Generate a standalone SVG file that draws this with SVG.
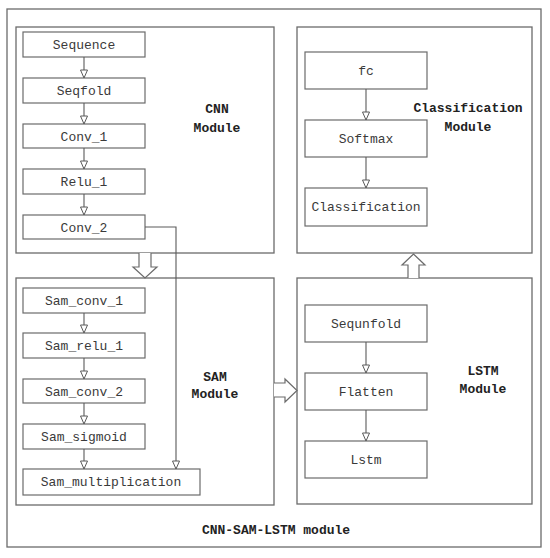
<svg xmlns="http://www.w3.org/2000/svg" width="550" height="558" viewBox="0 0 550 558">
<defs>
<style>
.box{fill:#fff;stroke:#6b6b6b;stroke-width:1.3}
.node rect{fill:#fff;stroke:#6b6b6b;stroke-width:1.2}
.node text{font-family:"Liberation Mono",monospace;font-size:13px;fill:#3a3a3a;text-anchor:middle}
.lbl{font-family:"Liberation Mono",monospace;font-size:13px;font-weight:bold;fill:#222;text-anchor:middle}
.edge{fill:none;stroke:#5a5a5a;stroke-width:1.1;marker-end:url(#tri)}
.block{fill:#fff;stroke:#6b6b6b;stroke-width:1.2}
</style>
<marker id="tri" markerUnits="userSpaceOnUse" markerWidth="10" markerHeight="10" viewBox="0 0 10 10" refX="9" refY="5" orient="auto">
<path d="M1,1.5 L9,5 L1,8.5 Z" fill="#fff" stroke="#5a5a5a" stroke-width="1"/>
</marker>
</defs>
<rect width="550" height="558" fill="#fff"/>
<g id="outer">
<rect class="box" x="7" y="9" width="534" height="538"/>
<text class="lbl" x="276" y="534" font-weight="normal">CNN-SAM-LSTM module</text>
</g>
<g id="cnn-module">
<rect class="box" x="16" y="27" width="258" height="226"/>
<text class="lbl" x="217" y="113">CNN</text>
<text class="lbl" x="217" y="132">Module</text>
</g>
<g id="classification-module">
<rect class="box" x="297" y="27" width="235" height="226"/>
<text class="lbl" x="468" y="112">Classification</text>
<text class="lbl" x="468" y="131">Module</text>
</g>
<g id="sam-module">
<rect class="box" x="16" y="278" width="258" height="227"/>
<text class="lbl" x="215" y="381">SAM</text>
<text class="lbl" x="215" y="398">Module</text>
</g>
<g id="lstm-module">
<rect class="box" x="297" y="278" width="235" height="226"/>
<text class="lbl" x="483" y="375">LSTM</text>
<text class="lbl" x="483" y="393">Module</text>
</g>
<g id="sequence" class="node"><rect x="23" y="32" width="122" height="25"/><text x="84" y="49">Sequence</text></g>
<g id="seqfold" class="node"><rect x="23" y="78" width="122" height="25"/><text x="84" y="95">Seqfold</text></g>
<g id="conv1" class="node"><rect x="23" y="124" width="122" height="24"/><text x="84" y="141">Conv_1</text></g>
<g id="relu1" class="node"><rect x="23" y="169" width="122" height="25"/><text x="84" y="186">Relu_1</text></g>
<g id="conv2" class="node"><rect x="23" y="215" width="122" height="24"/><text x="84" y="232">Conv_2</text></g>
<g id="fc" class="node"><rect x="305" y="52" width="122" height="37"/><text x="366" y="75">fc</text></g>
<g id="softmax" class="node"><rect x="305" y="120" width="122" height="37"/><text x="366" y="143">Softmax</text></g>
<g id="classification" class="node"><rect x="305" y="188" width="122" height="38"/><text x="366" y="211">Classification</text></g>
<g id="sam-conv1" class="node"><rect x="23" y="288" width="122" height="25"/><text x="84" y="305">Sam_conv_1</text></g>
<g id="sam-relu1" class="node"><rect x="23" y="333" width="122" height="25"/><text x="84" y="350">Sam_relu_1</text></g>
<g id="sam-conv2" class="node"><rect x="23" y="379" width="122" height="24"/><text x="84" y="396">Sam_conv_2</text></g>
<g id="sam-sigmoid" class="node"><rect x="23" y="424" width="122" height="25"/><text x="84" y="441">Sam_sigmoid</text></g>
<g id="sam-mult" class="node"><rect x="23" y="469" width="177" height="26"/><text x="111" y="486">Sam_multiplication</text></g>
<g id="sequnfold" class="node"><rect x="305" y="305" width="122" height="37"/><text x="366" y="328">Sequnfold</text></g>
<g id="flatten" class="node"><rect x="305" y="373" width="122" height="37"/><text x="366" y="396">Flatten</text></g>
<g id="lstm" class="node"><rect x="305" y="441" width="122" height="37"/><text x="366" y="464">Lstm</text></g>
<g id="connectors">
<path class="edge" d="M84,57 V78"/>
<path class="edge" d="M84,103 V124"/>
<path class="edge" d="M84,148 V169"/>
<path class="edge" d="M84,194 V215"/>
<path class="edge" d="M145,227 H176 V469"/>
<path class="edge" d="M366,89 V120"/>
<path class="edge" d="M366,157 V188"/>
<path class="edge" d="M84,313 V333"/>
<path class="edge" d="M84,358 V379"/>
<path class="edge" d="M84,403 V424"/>
<path class="edge" d="M84,449 V469"/>
<path class="edge" d="M366,342 V373"/>
<path class="edge" d="M366,410 V441"/>
<path class="block" d="M139,253 V267 H133 L145,278 L157,267 H151 V253"/>
<path class="block" d="M274,383 H285 V379 L297,390.5 L285,402 V397 H274"/>
<path class="block" d="M408,278 V265 H402 L413.5,254 L425,265 H419 V278"/>
</g>
</svg>
